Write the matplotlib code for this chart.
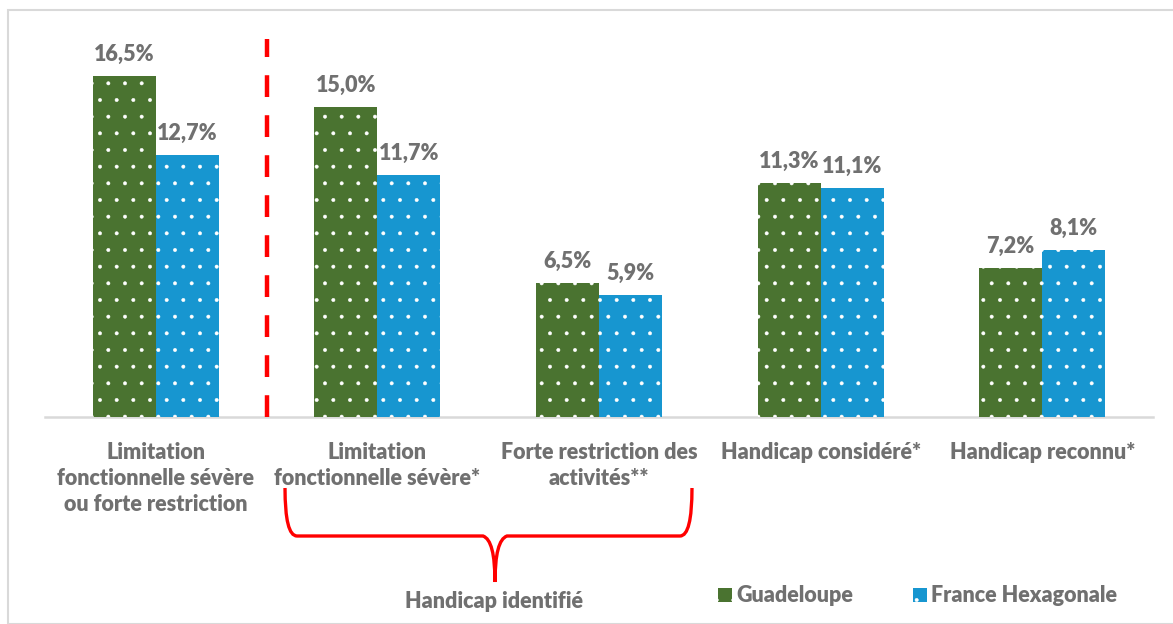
import numpy as np
import matplotlib.pyplot as plt
from matplotlib.path import Path
from matplotlib.patches import PathPatch, Rectangle
import matplotlib.transforms as mtransforms

plt.rcParams['font.family'] = ['Lato', 'DejaVu Sans']
plt.rcParams['hatch.linewidth'] = 0.35

# --- data ---
categories = [
    "Limitation\nfonctionnelle sévère\nou forte restriction",
    "Limitation\nfonctionnelle sévère*",
    "Forte restriction des\nactivités**",
    "Handicap considéré*",
    "Handicap reconnu*",
]
guadeloupe = [16.5, 15.0, 6.5, 11.3, 7.2]
france_hex = [12.7, 11.7, 5.9, 11.1, 8.1]
series_names = ["Guadeloupe", "France Hexagonale"]

GREEN = "#4a7330"
BLUE = "#1796d0"
GREY = "#707070"
FS = 15.5
WEIGHT = "heavy"

W, H = 1173, 624
fig = plt.figure(figsize=(W / 100, H / 100), dpi=100)
# axes: x from 45 to 1153 px, baseline at 417 px, top at 45 px
ax = fig.add_axes([45 / W, 1 - 417 / H, (1153 - 45) / W, (417 - 45) / H])

x = np.arange(len(categories))
bw = 0.284
b1 = ax.bar(x - bw / 2, guadeloupe, bw, color=GREEN, edgecolor="white", linewidth=0,
            hatch=".", label=series_names[0], zorder=3)
b2 = ax.bar(x + bw / 2, france_hex, bw, color=BLUE, edgecolor="white", linewidth=0,
            hatch=".", label=series_names[1], zorder=3)

for bars, vals in ((b1, guadeloupe), (b2, france_hex)):
    for r, v in zip(bars, vals):
        ax.annotate(f"{v:.1f}%".replace(".", ","), (r.get_x() + r.get_width() / 2, v),
                    xytext=(0, 8), textcoords="offset points", ha="center", va="bottom",
                    fontsize=FS, fontweight=WEIGHT, color=GREY)

ax.set_xlim(-0.5, len(categories) - 0.5)
ax.set_ylim(0, 18)
for s in ["top", "right", "left"]:
    ax.spines[s].set_visible(False)
ax.spines["bottom"].set_color("#d9d9d9")
ax.spines["bottom"].set_linewidth(1.8)
ax.set_yticks([])
ax.set_xticks(x)
ax.set_xticklabels(categories, fontsize=FS, fontweight=WEIGHT, color=GREY, linespacing=1.3)
ax.tick_params(axis="x", length=0, pad=18)

# dashed red separator
ax.plot([0.5, 0.5], [0, 18.3], color="#ff0000", lw=3.2, dashes=(4.9, 4.1),
        clip_on=False, zorder=4)

# brace under categories 1 and 2
trans = mtransforms.blended_transform_factory(ax.transData, fig.transFigure)
def xd(px):
    return (px - 45) / 221.6 - 0.5
def yf(py):
    return 1 - py / H
verts = [
    (xd(285), yf(488)), (xd(285), yf(536)), (xd(297), yf(536)),
    (xd(483), yf(536)), (xd(495), yf(540)), (xd(495), yf(582)),
    (xd(495), yf(540)), (xd(507), yf(536)),
    (xd(680), yf(536)), (xd(692), yf(536)), (xd(692), yf(488)),
]
codes = [Path.MOVETO, Path.CURVE3, Path.CURVE3,
         Path.LINETO, Path.CURVE3, Path.CURVE3,
         Path.CURVE3, Path.CURVE3,
         Path.LINETO, Path.CURVE3, Path.CURVE3]
brace = PathPatch(Path(verts, codes), fill=False, edgecolor="#ff0000", lw=2.4,
                  transform=trans, clip_on=False)
ax.add_patch(brace)
fig.text(494 / W, yf(601), "Handicap identifié", ha="center", va="center",
         fontsize=FS, fontweight=WEIGHT, color=GREY)

# legend
leg = fig.legend(handles=[b1, b2], loc="center left", bbox_to_anchor=(699 / W, yf(596)),
                 ncol=2, frameon=False, handlelength=0.65, handleheight=0.65,
                 handletextpad=0.2, columnspacing=2.75,
                 prop={"size": FS, "weight": WEIGHT})
for t in leg.get_texts():
    t.set_color(GREY)

# light outer frame
fig.patches.append(Rectangle((8 / W, 0), 1.2, 1 - 10 / H, transform=fig.transFigure,
                             fill=False, edgecolor="#d9d9d9", lw=1.5))

fig.savefig("out.png", dpi=100)
